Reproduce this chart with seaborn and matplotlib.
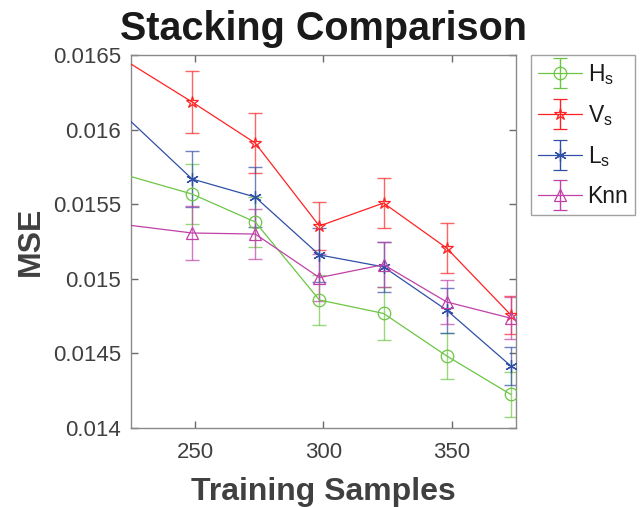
import numpy as np
import pandas as pd
import matplotlib
matplotlib.use("Agg")
import matplotlib.pyplot as plt
from matplotlib.ticker import MultipleLocator, FormatStrFormatter
from matplotlib.container import ErrorbarContainer
from matplotlib.legend_handler import HandlerErrorbar
import seaborn as sns

# ---- data ----
samples = [224, 248.8, 273.4, 298.4, 323.4, 348.0, 373.0]
series_names = ["H$_\\mathregular{s}$", "V$_\\mathregular{s}$", "L$_\\mathregular{s}$", "Knn"]
hs_mse = [0.01569, 0.015568, 0.015381, 0.014858, 0.014768, 0.014483, 0.014225]
hs_err = [0.00020, 0.00020, 0.00017, 0.00017, 0.00018, 0.000155, 0.00015]
vs_mse = [0.01645, 0.016185, 0.015910, 0.015354, 0.015508, 0.015206, 0.014758]
vs_err = [0.00020, 0.00021, 0.00020, 0.00016, 0.00017, 0.00017, 0.00013]
ls_mse = [0.01607, 0.015669, 0.015548, 0.015160, 0.015080, 0.014790, 0.014416]
ls_err = [0.00020, 0.00019, 0.00020, 0.00018, 0.00017, 0.00015, 0.00013]
knn_mse = [0.01536, 0.015307, 0.015300, 0.015008, 0.015095, 0.014845, 0.014736]
knn_err = [0.00017, 0.00018, 0.00017, 0.00016, 0.00015, 0.00015, 0.00014]
x_ticks = [250, 300, 350]

sns.set_theme(style="white")
plt.rcParams['font.family'] = ['Liberation Sans', 'DejaVu Sans']
plt.rcParams['mathtext.fontset'] = 'custom'
plt.rcParams['mathtext.rm'] = 'Liberation Sans'

fig = plt.figure(figsize=(6.4, 5.07), dpi=100)
ax = fig.add_axes([0.2047, 0.1558, 0.6015, 0.7357])

XMIN, XMAX = 225, 375
styles = [
    dict(color="#6cc644", marker="o"),
    dict(color="#ff2222", marker="*"),
    dict(color="#3050a8", marker=(6, 2, 0)),
    dict(color="#c040a8", marker="^"),
]
values = [hs_mse, vs_mse, ls_mse, knn_mse]
errors = [hs_err, vs_err, ls_err, knn_err]

# like MATLAB: markers / bars whose centre lies outside the axes are not drawn
visible = [i for i, s in enumerate(samples) if XMIN <= s <= XMAX]

handles = []
for name, vals, errs, st in zip(series_names, values, errors, styles):
    df = pd.DataFrame({"x": samples, "y": vals})
    sns.lineplot(data=df, x="x", y="y", ax=ax, color=st["color"], lw=0.9,
                 marker=st["marker"], markersize=9, markerfacecolor="none",
                 markeredgecolor=st["color"], markeredgewidth=0.9, legend=False,
                 markevery=visible, zorder=3)
    ax.errorbar([samples[i] for i in visible], [vals[i] for i in visible],
                yerr=[errs[i] for i in visible], fmt="none", ecolor=st["color"],
                elinewidth=1.0, capsize=5, capthick=1.0, alpha=0.7, zorder=2)
    h = ax.errorbar([np.nan], [np.nan], yerr=[0.0001], color=st["color"],
                    marker=st["marker"], markersize=9, mfc="none",
                    mec=st["color"], mew=0.9, lw=0.9, elinewidth=1.0,
                    capsize=5, capthick=1.0, label=name)
    handles.append(h)

ax.set_xlim(XMIN, XMAX)
ax.set_ylim(0.014, 0.0165)
ax.set_xticks(x_ticks)
ax.yaxis.set_major_locator(MultipleLocator(0.0005))
ax.yaxis.set_major_formatter(FormatStrFormatter('%g'))

for s in ax.spines.values():
    s.set_color("#8a8a8a")
    s.set_linewidth(1.0)
ax.tick_params(direction="in", length=5, width=1.0, color="#6a6a6a",
               labelsize=16, labelcolor="#404040", top=True, right=True,
               bottom=True, left=True)
ax.tick_params(axis="x", pad=10)
ax.tick_params(axis="y", pad=7)

ax.set_xlabel("Training Samples", fontsize=23, fontweight="bold", color="#404040", labelpad=10)
ax.set_ylabel("MSE", fontsize=23, fontweight="bold", color="#404040", labelpad=5)
ax.set_title("Stacking Comparison", fontsize=28.5, fontweight="bold", color="#1a1a1a", pad=11)

leg = ax.legend(handles=handles, loc="upper left", bbox_to_anchor=(1.04, 1.0),
                borderaxespad=0, fontsize=16.5, frameon=True, fancybox=False,
                edgecolor="#8a8a8a", numpoints=1, handlelength=1.9,
                handletextpad=0.25, labelspacing=0.7, borderpad=0.3,
                handler_map={ErrorbarContainer: HandlerErrorbar(yerr_size=0.65)})
leg.get_frame().set_linewidth(1.0)
for t in leg.get_texts():
    t.set_color("#1a1a1a")

fig.savefig("out.png", dpi=100)
